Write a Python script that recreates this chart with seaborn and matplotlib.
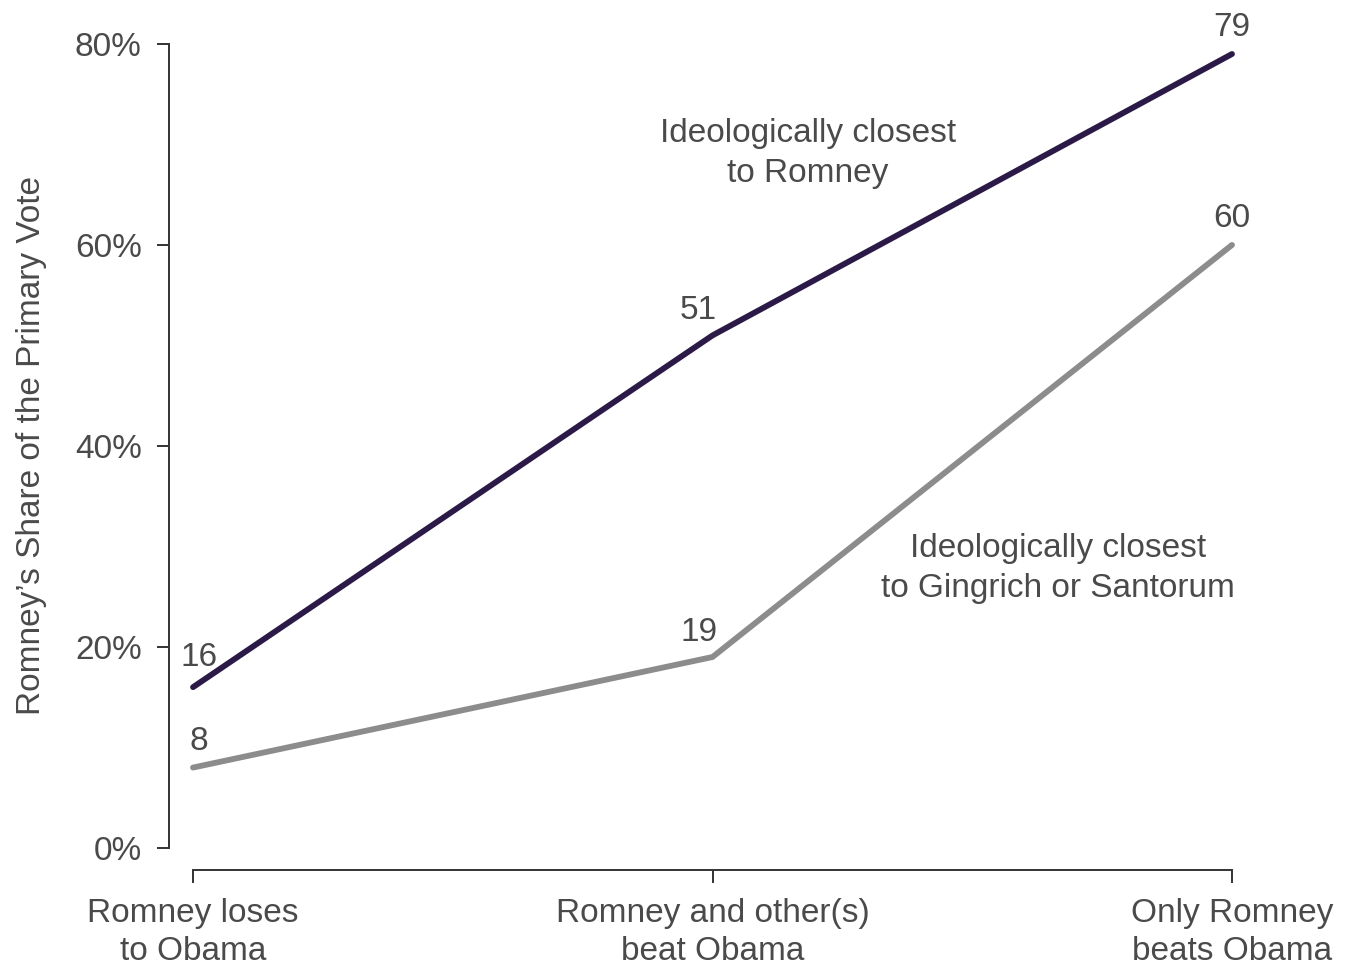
import matplotlib.pyplot as plt
import pandas as pd
import seaborn as sns

SCENARIOS = ["Romney loses\nto Obama", "Romney and other(s)\nbeat Obama", "Only Romney\nbeats Obama"]
CLOSEST_ROMNEY = [16, 51, 79]
CLOSEST_GINGRICH_SANTORUM = [8, 19, 60]
SERIES_NAMES = ["Ideologically closest\nto Romney", "Ideologically closest\nto Gingrich or Santorum"]
Y_TICKS = [0, 20, 40, 60, 80]

TEXT_COLOR = "#4a4a4a"
PALETTE = ["#2b1a47", "#8c8c8c"]
FONT_SIZE = 24


def build_frame() -> pd.DataFrame:
    rows = []
    for name, values in zip(SERIES_NAMES, [CLOSEST_ROMNEY, CLOSEST_GINGRICH_SANTORUM]):
        for i, v in enumerate(values):
            rows.append({"series": name, "pos": i, "share": v})
    return pd.DataFrame(rows)


def main() -> None:
    sns.set_theme(style="ticks")
    plt.rcParams["font.family"] = ["Liberation Sans", "DejaVu Sans"]

    df = build_frame()

    fig = plt.figure(figsize=(13.46, 9.68), dpi=100)
    ax = fig.add_axes([0.1434, 0.124, 0.7719, 0.8306])

    sns.lineplot(
        data=df, x="pos", y="share", hue="series", hue_order=SERIES_NAMES[::-1],
        palette=PALETTE[::-1], linewidth=4.2, legend=False, ax=ax,
    )
    for line in ax.get_lines():
        line.set_solid_capstyle("round")
        line.set_clip_on(False)

    # value labels above each point
    offsets = [(4, 21), (-10, 18), (0, 19)]
    for values in [CLOSEST_ROMNEY, CLOSEST_GINGRICH_SANTORUM]:
        for i, v in enumerate(values):
            dx, dy = offsets[i]
            if i == 0 and values is CLOSEST_GINGRICH_SANTORUM:
                dy = 19
            ax.annotate(str(v), (i, v), xytext=(dx, dy), textcoords="offset points",
                        ha="center", va="center", fontsize=FONT_SIZE, color=TEXT_COLOR)

    ax.text(1.184, 69.1, SERIES_NAMES[0], ha="center", va="center", fontsize=FONT_SIZE,
            color=TEXT_COLOR, linespacing=1.4)
    ax.text(1.665, 27.8, SERIES_NAMES[1], ha="center", va="center", fontsize=FONT_SIZE,
            color=TEXT_COLOR, linespacing=1.4)

    ax.set_xlim(0, 2)
    ax.set_ylim(0, 80)
    ax.set_xticks(range(len(SCENARIOS)))
    ax.set_xticklabels(SCENARIOS)
    ax.set_yticks(Y_TICKS)
    ax.set_yticklabels([f"{t}%" for t in Y_TICKS])
    ax.set_xlabel("")
    ax.set_ylabel("Romney\u2019s Share of the Primary Vote", fontsize=FONT_SIZE, color=TEXT_COLOR)
    ax.yaxis.set_label_coords(-0.141, 0.5)

    sns.despine(ax=ax)
    ax.spines["left"].set_position(("outward", 17))
    ax.spines["bottom"].set_position(("outward", 16))
    for side in ["left", "bottom"]:
        ax.spines[side].set_color("#333333")
        ax.spines[side].set_linewidth(1.4)
    ax.tick_params(axis="both", length=9, width=1.4, color="#333333",
                   labelsize=FONT_SIZE, labelcolor=TEXT_COLOR)
    ax.tick_params(axis="x", pad=11)
    ax.tick_params(axis="y", pad=11)
    for lbl in ax.get_xticklabels():
        lbl.set_linespacing(1.28)

    fig.savefig("out.png", dpi=100, facecolor="white")


if __name__ == "__main__":
    main()
